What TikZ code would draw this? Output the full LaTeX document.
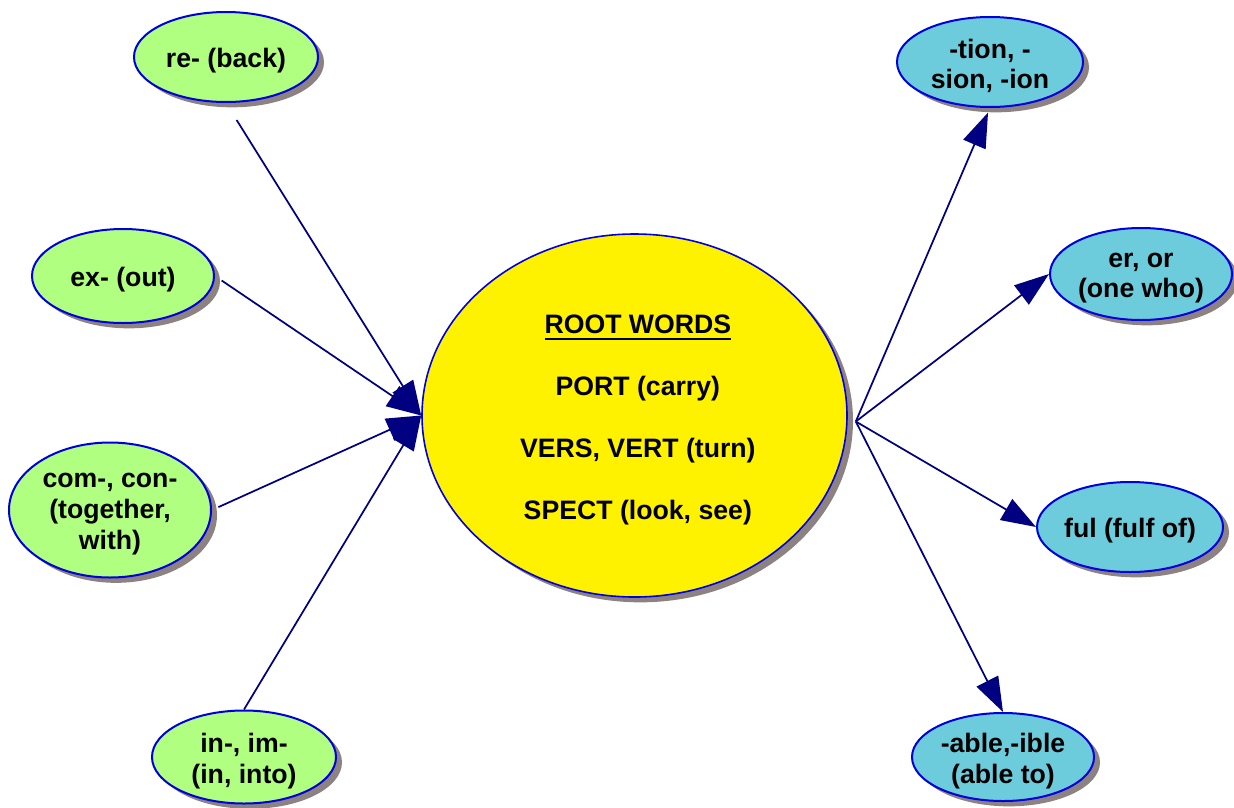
\documentclass[tikz,border=0pt]{standalone}
\usepackage{fontspec}
\setmainfont{Liberation Sans}
\usetikzlibrary{shapes.geometric,shadows,arrows.meta}
\definecolor{leafgreen}{RGB}{176,255,128}
\definecolor{leafblue}{RGB}{108,204,220}
\definecolor{edgeblue}{RGB}{0,0,220}
\definecolor{arrownavy}{RGB}{0,0,128}
\definecolor{shadowgray}{RGB}{140,130,130}
\newlength{\pxu}
\setlength{\pxu}{0.75pt}
\newsavebox{\ulbox}
\newcommand{\rootul}[1]{\leavevmode\sbox{\ulbox}{#1}\rlap{\vrule width\wd\ulbox height -3.75pt depth 5.25pt}\usebox{\ulbox}}
\tikzset{
  bubble/.style={ellipse, draw=edgeblue, line width=1.5pt, inner sep=0pt, fill=#1,
    drop shadow={shadow xshift=4.5pt, shadow yshift=-4pt, fill=shadowgray, opacity=1}},
  txt/.style={font=\fontsize{20}{23}\selectfont\bfseries, align=center, inner sep=0pt, yshift=-3pt},
  roottxt/.style={font=\fontsize{20}{46.5}\selectfont\bfseries, align=center, inner sep=0pt, xshift=2.5pt, yshift=-3pt},
  arr/.style={draw=arrownavy, line width=1.3pt, -{Triangle[length=26pt,width=18pt]}},
}
\begin{document}
\begin{tikzpicture}[x=0.75pt,y=-0.75pt]
\useasboundingbox (0,0) rectangle (1234,807);
% root
\node[bubble=yellow, line width=1.2pt, minimum width=425\pxu, minimum height=363\pxu,
  label={[roottxt]center:\rootul{ROOT WORDS}\\PORT (carry)\\VERS, VERT (turn)\\SPECT (look, see)}] (root) at (634.5,415.5) {};
% prefixes
\node[bubble=leafgreen, minimum width=184\pxu, minimum height=90\pxu, label={[txt]center:re- (back)}] (re) at (226,57) {};
\node[bubble=leafgreen, minimum width=182\pxu, minimum height=94\pxu, label={[txt]center:ex- (out)}] (ex) at (123,276) {};
\node[bubble=leafgreen, minimum width=202\pxu, minimum height=135\pxu, label={[txt]center:com-, con-\\(together,\\with)}] (com) at (110,510) {};
\node[bubble=leafgreen, minimum width=184\pxu, minimum height=93\pxu, label={[txt]center:in-, im-\\(in, into)}] (in) at (244,757) {};
% suffixes
\node[bubble=leafblue, minimum width=186\pxu, minimum height=90\pxu, label={[txt]center:-tion, -\\sion, -ion}] (tion) at (990,62) {};
\node[bubble=leafblue, minimum width=182\pxu, minimum height=92\pxu, label={[txt]center:er, or\\(one who)}] (er) at (1141,274) {};
\node[bubble=leafblue, minimum width=186\pxu, minimum height=90\pxu, label={[txt]center:ful (fulf of)}] (ful) at (1130,527) {};
\node[bubble=leafblue, minimum width=182\pxu, minimum height=88\pxu, label={[txt]center:-able,-ible\\(able to)}] (able) at (1003,757) {};
% connectors in
\draw[arr, shorten <=20\pxu] (re.south) -- (root.west);
\draw[arr, shorten <=8\pxu] (ex.east) -- (root.west);
\draw[arr, shorten <=7\pxu] (com.east) -- (root.west);
\draw[arr] (in.north) -- (root.west);
% connectors out
\draw[arr, shorten >=5\pxu] ([shift={(8,6)}]root.east) -- (tion.south);
\draw[arr] ([shift={(8,6)}]root.east) -- (er.west);
\draw[arr] ([shift={(8,6)}]root.east) -- (ful.west);
\draw[arr] ([shift={(8,6)}]root.east) -- (able.north);
\end{tikzpicture}
\end{document}
